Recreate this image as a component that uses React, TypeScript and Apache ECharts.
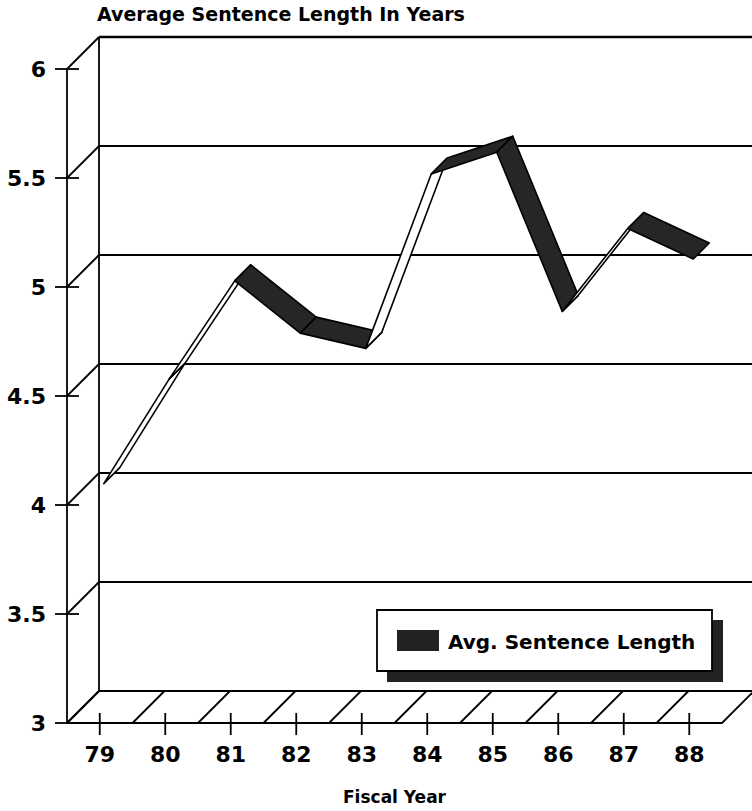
import React, { useEffect, useRef } from "react";
import * as echarts from "echarts";

const categories = ["79", "80", "81", "82", "83", "84", "85", "86", "87", "88"];
const values = [4.08, 4.56, 5.01, 4.77, 4.7, 5.5, 5.6, 4.87, 5.25, 5.11];
const yTicks = [3, 3.5, 4, 4.5, 5, 5.5, 6];
const seriesName = "Avg. Sentence Length";

const FONT = "DejaVu Sans";
const DEPTH = 32; // back wall offset
const RIB_FRONT = 4;
const RIB_BACK = 20;
const LW = 1.8;

export default function App() {
  const ref = useRef<HTMLDivElement>(null);
  useEffect(() => {
    document.body.style.margin = "0";
    const chart = echarts.init(ref.current!, null, { renderer: "svg" });
    const line = (x1: number, y1: number, x2: number, y2: number, w = LW) => ({
      type: "line",
      shape: { x1, y1, x2, y2 },
      style: { stroke: "#000", lineWidth: w },
      silent: true,
    });

    const ribbonData = values.slice(0, -1).map((v, i) => [i, v, values[i + 1]]);

    chart.setOption({
      animation: false,
      backgroundColor: "#fff",
      title: {
        text: "Average Sentence Length In Years",
        left: 97,
        top: 4,
        padding: 0,
        textStyle: { fontFamily: FONT, fontWeight: "bold", fontSize: 19, color: "#000" },
      },
      grid: { left: 67, right: 30, top: 69, bottom: 88 },
      xAxis: {
        type: "category",
        data: categories,
        boundaryGap: true,
        name: "Fiscal Year",
        nameLocation: "middle",
        nameGap: 65,
        nameTextStyle: { fontFamily: FONT, fontWeight: "bold", fontSize: 17, color: "#000" },
        axisLine: { lineStyle: { color: "#000", width: LW } },
        axisTick: { show: false },
        axisLabel: { fontFamily: FONT, fontWeight: "bold", fontSize: 22, color: "#000", margin: 20 },
      },
      yAxis: {
        type: "value",
        min: 3,
        max: 6,
        interval: 0.5,
        axisLine: { show: true, lineStyle: { color: "#000", width: LW } },
        axisTick: { show: false },
        splitLine: { show: false },
        axisLabel: { fontFamily: FONT, fontWeight: "bold", fontSize: 22, color: "#000", margin: 21 },
      },
      series: [
        {
          type: "custom",
          name: "frame",
          silent: true,
          z: 1,
          data: [[0, 3]],
          encode: { x: 0, y: 1 },
          renderItem: (params: any, api: any) => {
            const bw = api.size([1, 0])[0];
            const c0 = api.coord([0, 3]);
            const x0 = c0[0] - bw / 2;
            const y3 = c0[1];
            const xR = x0 + categories.length * bw;
            const yOf = (v: number) => api.coord([0, v])[1];
            const children: any[] = [];
            const yTop = yOf(yTicks[yTicks.length - 1]);
            children.push(line(x0 + DEPTH, yTop - DEPTH, x0 + DEPTH, y3 - DEPTH));
            yTicks.forEach((v, k) => {
              const y = yOf(v);
              children.push(line(x0 + DEPTH, y - DEPTH, xR + DEPTH, y - DEPTH, k === yTicks.length - 1 ? 2.4 : LW));
              children.push(line(x0, y, x0 + DEPTH, y - DEPTH));
              children.push(line(x0 - 12, y, x0 + (v === 3 ? 0 : 12), y));
            });
            for (let k = 0; k <= categories.length; k++) {
              const x = x0 + k * bw;
              children.push(line(x, y3, x + DEPTH, y3 - DEPTH));
            }
            categories.forEach((_, i) => {
              const cx = api.coord([i, 3])[0];
              children.push(line(cx, y3 - 10, cx, y3 + 12));
            });
            return { type: "group", children };
          },
        },
        {
          type: "custom",
          name: seriesName,
          z: 5,
          data: ribbonData,
          encode: { x: 0, y: 1 },
          renderItem: (params: any, api: any) => {
            const i = api.value(0);
            const p0 = api.coord([i, api.value(1)]);
            const p1 = api.coord([i + 1, api.value(2)]);
            const f0 = [p0[0] + RIB_FRONT, p0[1] - RIB_FRONT];
            const f1 = [p1[0] + RIB_FRONT, p1[1] - RIB_FRONT];
            const b0 = [p0[0] + RIB_BACK, p0[1] - RIB_BACK];
            const b1 = [p1[0] + RIB_BACK, p1[1] - RIB_BACK];
            const dx = p1[0] - p0[0];
            const dy = p1[1] - p0[1];
            const topVisible = -dx - dy < 0;
            return {
              type: "polygon",
              shape: { points: [f0, f1, b1, b0] },
              style: {
                fill: topVisible ? "#262626" : "#fff",
                stroke: "#000",
                lineWidth: 1.6,
                lineJoin: "round",
              },
            };
          },
        },
      ],
      graphic: [
        { type: "rect", shape: { x: 387, y: 620, width: 336, height: 62 }, style: { fill: "#222" }, z: 10 },
        {
          type: "rect",
          shape: { x: 377, y: 610, width: 335, height: 61 },
          style: { fill: "#fff", stroke: "#000", lineWidth: LW },
          z: 11,
        },
        { type: "rect", shape: { x: 397, y: 630, width: 42, height: 21 }, style: { fill: "#222" }, z: 12 },
        {
          type: "text",
          x: 448,
          y: 642,
          z: 12,
          style: {
            text: seriesName,
            fontFamily: FONT,
            fontWeight: "bold",
            fontSize: 20,
            fill: "#000",
            verticalAlign: "middle",
          },
        },
      ],
    });
    return () => chart.dispose();
  }, []);
  return <div ref={ref} style={{ width: 752, height: 811 }} />;
}
